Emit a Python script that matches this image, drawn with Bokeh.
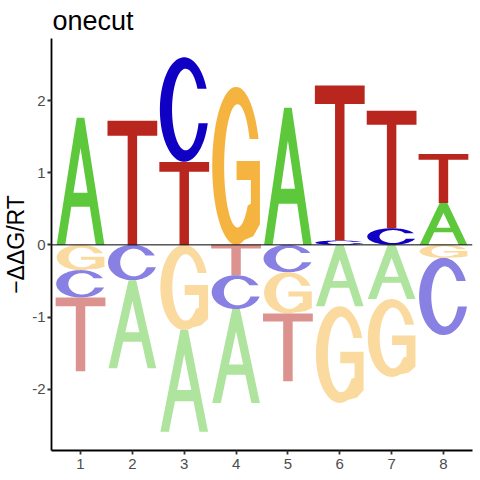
import numpy as np
from bokeh.plotting import figure
from bokeh.models import Span, ColumnDataSource, FixedTicker, Title
from bokeh.embed import file_html
from bokeh.resources import INLINE

# ---------------- data ----------------
positions = [1, 2, 3, 4, 5, 6, 7, 8]
letters = ["A", "C", "G", "T"]
score_A = [1.76, -1.22, -1.41, -1.30, 1.90, -0.85, -0.75, 0.58]
score_C = [-0.38, -0.49, 1.45, -0.47, -0.38, 0.06, 0.23, -1.07]
score_G = [-0.35, 0.00, -1.18, 2.19, -0.57, -1.34, -1.08, -0.18]
score_T = [-1.02, 1.72, 1.15, -0.42, -0.94, 2.15, 1.63, 0.68]
title_text = "onecut"
y_label_text = "\u2212\u0394\u0394G/RT"
y_ticks = [-2, -1, 0, 1, 2]
y_tick_labels = ["-2", "-1", "0", "1", "2"]
x_tick_labels = ["1", "2", "3", "4", "5", "6", "7", "8"]

# ---------------- styles ----------------
pos_colors = {"A": "#5DC83B", "C": "#1000C4", "G": "#F5B43F", "T": "#B9261D"}


def lighten(hexc, a=0.5):
    r, g, b = int(hexc[1:3], 16), int(hexc[3:5], 16), int(hexc[5:7], 16)
    r = round(r * a + 255 * (1 - a)); g = round(g * a + 255 * (1 - a)); b = round(b * a + 255 * (1 - a))
    return "#%02X%02X%02X" % (r, g, b)


neg_colors = {k: lighten(v) for k, v in pos_colors.items()}
letter_width = {"A": 0.92, "C": 0.94, "G": 0.92, "T": 0.96}


# ---------------- glyph outlines in unit box ----------------
def arc(cx, cy, rx, ry, a0, a1, n=60):
    t = np.radians(np.linspace(a0, a1, n))
    return list(cx + rx * np.cos(t)), list(cy + ry * np.sin(t))


def glyph_rings(letter):
    if letter == "A":
        ox = [0, 0.42, 0.58, 1, 0.82, 0.82 - 0.42 * 0.30, 0.18 + 0.42 * 0.30, 0.18]
        oy = [0, 1, 1, 0, 0, 0.30, 0.30, 0]
        hx = [0.18 + 0.42 * 0.41, 0.82 - 0.42 * 0.41, 0.5]
        hy = [0.41, 0.41, 0.762]
        return [(ox, oy), (hx, hy)]
    if letter == "T":
        ox = [0, 1, 1, 0.595, 0.595, 0.405, 0.405, 0]
        oy = [1, 1, 0.88, 0.88, 0, 0, 0.88, 0.88]
        return [(ox, oy)]
    if letter == "C":
        t_out = np.degrees(np.arcsin((0.70 - 0.5) / 0.5))
        b_out = 360 + np.degrees(np.arcsin((0.37 - 0.5) / 0.5))
        t_in = np.degrees(np.arcsin((0.70 - 0.5) / 0.39))
        b_in = 360 + np.degrees(np.arcsin((0.37 - 0.5) / 0.39))
        x1, y1 = arc(0.5, 0.5, 0.5, 0.5, t_out, b_out, 80)
        x2, y2 = arc(0.53, 0.5, 0.28, 0.39, b_in, t_in, 80)
        return [(x1 + x2, y1 + y2)]
    if letter == "G":
        t_out = np.degrees(np.arcsin((0.67 - 0.5) / 0.5))
        t_in = np.degrees(np.arcsin((0.67 - 0.5) / 0.39))
        x1, y1 = arc(0.5, 0.5, 0.5, 0.5, t_out, 290, 80)
        mx = [0.86, 1.0, 1.0, 0.51, 0.51, 0.81, 0.81]
        my = [0.055, 0.13, 0.53, 0.53, 0.41, 0.41, 0.26]
        x2, y2 = arc(0.53, 0.5, 0.28, 0.39, 320, t_in, 80)
        return [(x1 + mx + x2, y1 + my + y2)]


# ---------------- build stacked letters ----------------
scores = {"A": score_A, "C": score_C, "G": score_G, "T": score_T}
xs, ys, cols = [], [], []
for i, pos in enumerate(positions):
    vals = [(L, scores[L][i]) for L in letters]
    posv = sorted([v for v in vals if v[1] > 0], key=lambda v: abs(v[1]))
    negv = sorted([v for v in vals if v[1] < 0], key=lambda v: abs(v[1]))
    base = 0.0
    for L, h in posv:
        w = letter_width[L]
        rings = [(list(pos - w / 2 + np.array(rx) * w), list(base + np.array(ry) * h))
                 for rx, ry in glyph_rings(L)]
        xs.append([[r[0] for r in rings]]); ys.append([[r[1] for r in rings]])
        cols.append(pos_colors[L])
        base += h
    base = 0.0
    for L, h in negv:
        w = letter_width[L]
        top = base
        bot = base + h  # h negative
        rings = [(list(pos - w / 2 + np.array(rx) * w), list(bot + np.array(ry) * (top - bot)))
                 for rx, ry in glyph_rings(L)]
        xs.append([[r[0] for r in rings]]); ys.append([[r[1] for r in rings]])
        cols.append(neg_colors[L])
        base = bot

src = ColumnDataSource(dict(xs=xs, ys=ys, color=cols))

# ---------------- figure ----------------
p = figure(frame_width=421, frame_height=412, x_range=(0.44, 8.56), y_range=(-2.85, 2.86),
           output_backend="svg", toolbar_location=None,
           min_border_left=50, min_border_right=1, min_border_top=38, min_border_bottom=22)
p.outline_line_color = None
p.xgrid.visible = False
p.ygrid.visible = False
p.background_fill_color = "white"

p.multi_polygons(xs="xs", ys="ys", fill_color="color", line_color=None, source=src)

p.add_layout(Span(location=0, dimension="width", line_color="black", line_width=1))

for ax in (p.xaxis[0], p.yaxis[0]):
    ax.axis_line_color = "black"
    ax.axis_line_width = 1.8
    ax.major_tick_line_color = "#333333"
    ax.major_tick_line_width = 1.8
    ax.major_tick_in = 0
    ax.major_tick_out = 4
    ax.minor_tick_line_color = None
    ax.major_label_text_font = "Liberation Sans"
    ax.major_label_text_font_size = "15px"
    ax.major_label_text_color = "#4D4D4D"

p.xaxis.ticker = FixedTicker(ticks=positions)
p.xaxis.major_label_overrides = {pv: lab for pv, lab in zip(positions, x_tick_labels)}
p.xaxis.major_label_standoff = 4
p.yaxis.ticker = FixedTicker(ticks=y_ticks)
p.yaxis.major_label_overrides = {tv: lab for tv, lab in zip(y_ticks, y_tick_labels)}
p.yaxis.major_label_standoff = 2

p.yaxis.axis_label = y_label_text
p.yaxis.axis_label_text_font = "Liberation Sans"
p.yaxis.axis_label_text_font_size = "23px"
p.yaxis.axis_label_text_font_style = "normal"
p.yaxis.axis_label_text_color = "black"
p.yaxis.axis_label_standoff = 0

t = Title(text=title_text, align="left", offset=1, standoff=5,
          text_font="Liberation Sans", text_font_size="27px", text_font_style="normal",
          text_color="black")
p.add_layout(t, "above")

open("out.html", "w").write(file_html(p, INLINE))
